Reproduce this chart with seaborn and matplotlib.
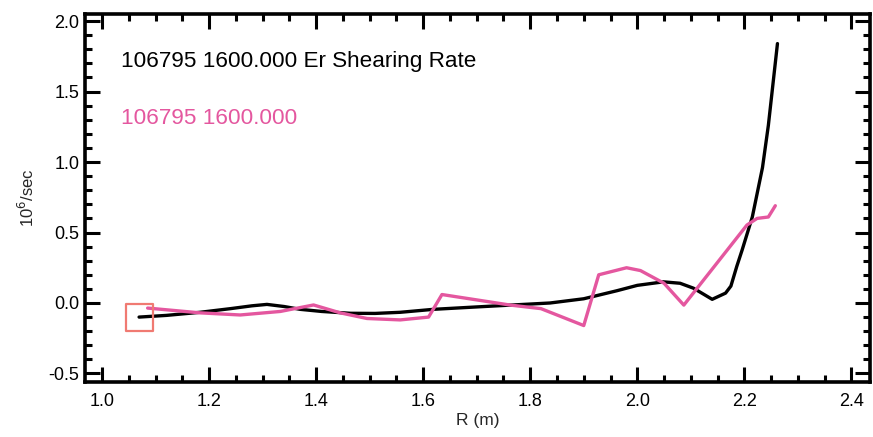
import numpy as np
import pandas as pd
import matplotlib
matplotlib.use("Agg")
import matplotlib.pyplot as plt
import seaborn as sns
from matplotlib.ticker import MultipleLocator

# Black curve: Er shearing rate
r_black = [1.069, 1.12, 1.183, 1.24, 1.28, 1.308, 1.34, 1.37, 1.41, 1.464, 1.51, 1.557, 1.619, 1.69, 1.763, 1.837,
           1.9, 1.962, 2.0, 2.049, 2.08, 2.105, 2.125, 2.14, 2.165, 2.175, 2.186, 2.196, 2.215, 2.234, 2.245, 2.262]
v_black = [-0.10, -0.088, -0.066, -0.04, -0.02, -0.01, -0.025, -0.045, -0.06, -0.073, -0.074, -0.066, -0.045, -0.03, -0.015, 0.0,
           0.03, 0.087, 0.125, 0.15, 0.14, 0.105, 0.06, 0.026, 0.07, 0.12, 0.26, 0.376, 0.61, 0.96, 1.26, 1.84]

# Pink curve
r_pink = [1.085, 1.183, 1.258, 1.333, 1.395, 1.445, 1.495, 1.557, 1.61, 1.635, 1.763, 1.82, 1.9,
          1.928, 1.98, 2.006, 2.05, 2.087, 2.205, 2.224, 2.245, 2.258]
v_pink = [-0.036, -0.07, -0.085, -0.06, -0.014, -0.07, -0.11, -0.12, -0.10, 0.06, -0.015, -0.04, -0.16,
          0.20, 0.25, 0.23, 0.14, -0.015, 0.553, 0.60, 0.61, 0.69]

marker_r = [1.07]
marker_v = [-0.10]

label_black = "106795 1600.000 Er Shearing Rate"
label_pink = "106795 1600.000"

sns.set_style("ticks")
plt.rcParams['font.family'] = ['Liberation Sans', 'DejaVu Sans']
plt.rcParams['axes.unicode_minus'] = False

fig = plt.figure(figsize=(8.73, 4.37), dpi=100)
ax = fig.add_axes([0.0974, 0.126, 0.8992, 0.842])

PINK = "#e4579f"
df_b = pd.DataFrame({"R": r_black, "v": v_black})
df_p = pd.DataFrame({"R": r_pink, "v": v_pink})
sns.lineplot(data=df_b, x="R", y="v", ax=ax, color="black", lw=2.4, sort=False, estimator=None)
sns.lineplot(data=df_p, x="R", y="v", ax=ax, color=PINK, lw=2.4, sort=False, estimator=None)
ax.scatter(marker_r, marker_v, marker="s", s=380, facecolors="none", edgecolors="#f07a72", linewidths=1.6, zorder=5)

ax.set_xlim(0.968, 2.435)
ax.set_ylim(-0.56, 2.05)
ax.xaxis.set_major_locator(MultipleLocator(0.2))
ax.xaxis.set_minor_locator(MultipleLocator(0.05))
ax.yaxis.set_major_locator(MultipleLocator(0.5))
ax.yaxis.set_minor_locator(MultipleLocator(0.1))
ax.tick_params(which="both", direction="in", top=True, right=True, width=2.2, labelsize=13, colors="black")
ax.tick_params(which="major", length=11)
ax.tick_params(axis="x", which="major", pad=8)
ax.tick_params(axis="y", which="major", pad=4)
ax.tick_params(which="minor", length=5)
for s in ax.spines.values():
    s.set_linewidth(2.6)
    s.set_color("black")

ax.set_xlabel("R (m)", fontsize=12.5, labelpad=2)
ax.set_ylabel("10$^6$/sec", fontsize=12, labelpad=8)

ax.text(0.046, 0.87, label_black, transform=ax.transAxes, fontsize=16.2, color="black", va="center", ha="left")
ax.text(0.046, 0.716, label_pink, transform=ax.transAxes, fontsize=16.2, color=PINK, va="center", ha="left")

fig.savefig("out.png", dpi=100)
